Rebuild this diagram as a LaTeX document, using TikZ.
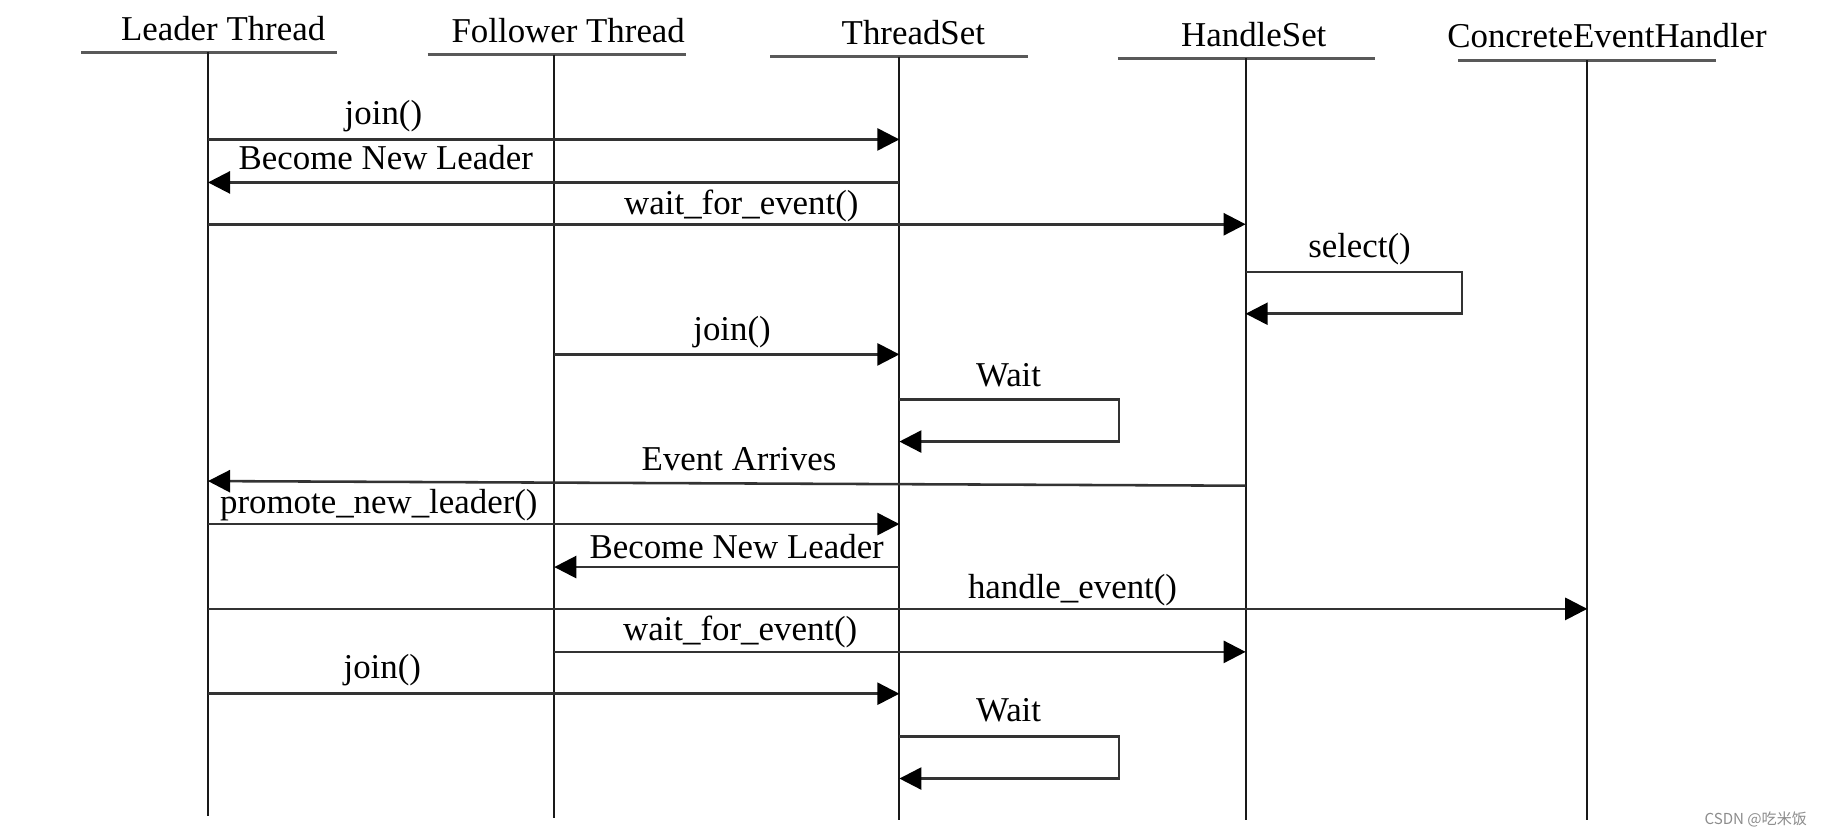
\documentclass[tikz,border=0pt]{standalone}
\usepackage{fontspec}
\setmainfont{Liberation Serif}
\newfontfamily\cjk{Noto Sans CJK SC}
\usetikzlibrary{arrows.meta}
\begin{document}
\begin{tikzpicture}[x=0.5pt,y=-0.5pt,
  head/.style={font=\fontsize{15}{18}\selectfont, inner sep=0pt, anchor=base},
  lbl/.style={font=\fontsize{15}{18}\selectfont, inner sep=0pt, anchor=base},
  lifeline/.style={line width=0.8pt, black!90},
  headline/.style={line width=1.3pt, black!65},
  msg/.style={line width=1.1pt, black!80, -{Triangle[length=9.5pt,width=9.5pt,color=black]}},
]
\useasboundingbox (0,0) rectangle (1568,722);

% headers
\node[head] (hlt) at (192,35) {Leader Thread};
\node[head] (hft) at (489,37) {Follower Thread};
\node[head] (hts) at (786,38) {ThreadSet};
\node[head] (hhs) at (1079,40) {HandleSet};
\node[head] (hce) at (1383,41) {ConcreteEventHandler};

\draw[headline] (70,45) -- (290,45);
\draw[headline] (368,47) -- (590,47);
\draw[headline] (663,49) -- (885,49);
\draw[headline] (962,50) -- (1183,50);
\draw[headline] (1255,52) -- (1477,52);

% lifelines
\coordinate (lt) at (179,45);   \coordinate (ltb) at (179,702);
\coordinate (ft) at (477,47);   \coordinate (ftb) at (477,704);
\coordinate (ts) at (774,49);   \coordinate (tsb) at (774,706);
\coordinate (hs) at (1072,50);  \coordinate (hsb) at (1072,706);
\coordinate (ce) at (1366,52);  \coordinate (ceb) at (1366,706);
\draw[lifeline] (lt) -- (ltb);
\draw[lifeline] (ft) -- (ftb);
\draw[lifeline] (ts) -- (tsb);
\draw[lifeline] (hs) -- (hsb);
\draw[lifeline] (ce) -- (ceb);

% messages
\draw[msg] (lt |- 0,120) -- (ts |- 0,120);
\node[lbl] (m1) at (330,107) {join()};

\draw[msg] (ts |- 0,157) -- (lt |- 0,157);
\node[lbl] (m2) at (332,146) {Become New Leader};

\draw[msg] (lt |- 0,193) -- (hs |- 0,193);
\node[lbl] (m3) at (638,185) {wait\_for\_event()};

\draw[msg] (hs |- 0,234) -- (1258,234) -- (1258,270) -- (hs |- 0,270);
\node[lbl] (m4) at (1170,222) {select()};

\draw[msg] (ft |- 0,305) -- (ts |- 0,305);
\node[lbl] (m5) at (630,293) {join()};

\draw[msg] (ts |- 0,344) -- (963,344) -- (963,380) -- (ts |- 0,380);
\node[lbl] (m6) at (868,333) {Wait};

\draw[msg] (hs |- 0,418) -- (lt |- 0,414);
\node[lbl] (m7) at (636,405) {Event Arrives};

\draw[msg] (lt |- 0,451) -- (ts |- 0,451);
\node[lbl] (m8) at (326,442) {promote\_new\_leader()};

\draw[msg] (ts |- 0,488) -- (ft |- 0,488);
\node[lbl] (m9) at (634,481) {Become New Leader};

\draw[msg] (lt |- 0,524) -- (ce |- 0,524);
\node[lbl] (m10) at (923,515) {handle\_event()};

\draw[msg] (ft |- 0,561) -- (hs |- 0,561);
\node[lbl] (m11) at (637,551) {wait\_for\_event()};

\draw[msg] (lt |- 0,597) -- (ts |- 0,597);
\node[lbl] (m12) at (329,584) {join()};

\draw[msg] (ts |- 0,634) -- (963,634) -- (963,670) -- (ts |- 0,670);
\node[lbl] (m13) at (868,621) {Wait};

% watermark
\node[font=\cjk\fontsize{6.5}{8}\selectfont, text=black!45, inner sep=0pt] (wm) at (1511,705) {CSDN @吃米饭};
\end{tikzpicture}
\end{document}
